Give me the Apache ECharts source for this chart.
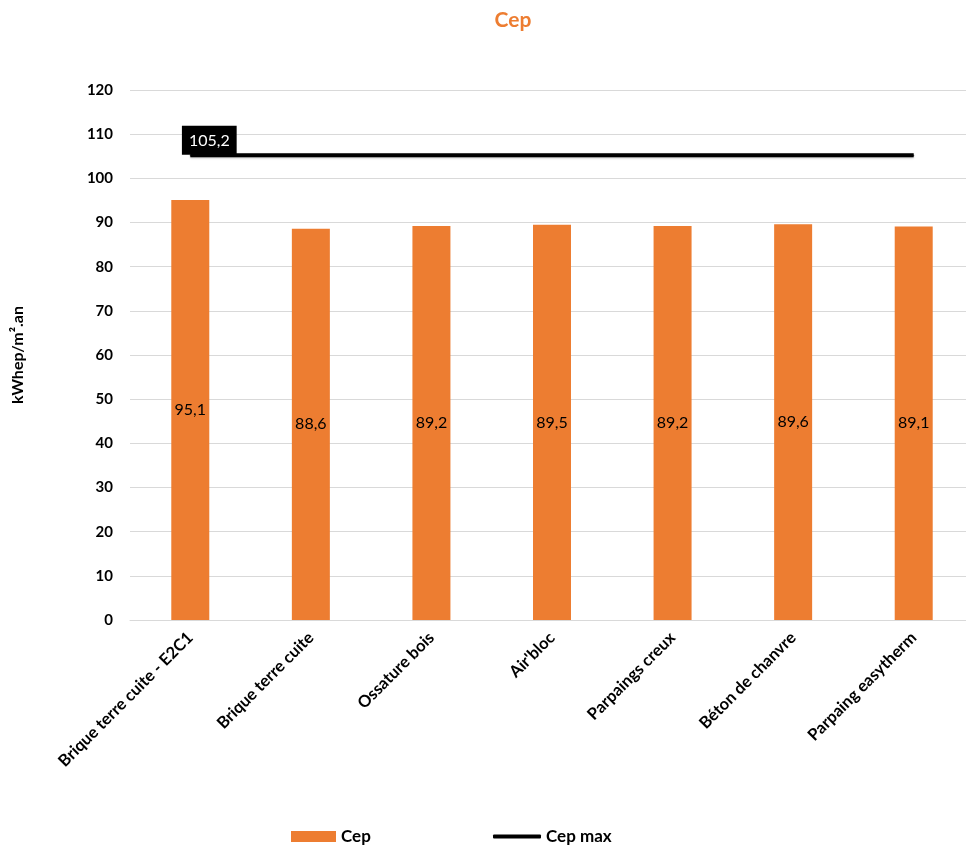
<!DOCTYPE html>
<html>
<head>
<meta charset="utf-8">
<script src="https://cdn.jsdelivr.net/npm/echarts@6/dist/echarts.min.js"></script>
<style>html,body{margin:0;padding:0;background:#fff;overflow:hidden}#c{width:980px;height:847px}</style>
</head>
<body>
<div id="c"></div>
<script>
const categories = ["Brique terre cuite - E2C1", "Brique terre cuite", "Ossature bois", "Air'bloc", "Parpaings creux", "Béton de chanvre", "Parpaing easytherm"];
const cepValues = [95.1, 88.6, 89.2, 89.5, 89.2, 89.6, 89.1];
const cepMaxValue = 105.2;
const yTicks = { min: 0, max: 120, interval: 10 };

const FONT = 'Lato';
const fmt = v => String(v).replace('.', ',');

const cepMaxData = categories.map((c, i) => i === 0
  ? { value: cepMaxValue, label: { show: true } }
  : cepMaxValue);

const chart = echarts.init(document.getElementById('c'), null, { renderer: 'canvas' });
chart.setOption({
  animation: false,
  textStyle: { fontFamily: FONT },
  title: {
    text: 'Cep',
    left: 508, top: 5, textAlign: 'center',
    textStyle: { color: '#ED7D31', fontSize: 21, fontWeight: 'bold', fontFamily: FONT }
  },
  legend: [
    {
      data: ['Cep'], left: 291, top: 828, padding: 0,
      itemWidth: 45, itemHeight: 11, icon: 'rect',
      textStyle: { color: '#000', fontSize: 17, fontWeight: 'bold', fontFamily: FONT }
    },
    {
      data: [{ name: 'Cep max', icon: 'roundRect' }], left: 493, top: 828, padding: 0,
      itemWidth: 48, itemHeight: 4,
      textStyle: { color: '#000', fontSize: 17, fontWeight: 'bold', fontFamily: FONT }
    }
  ],
  grid: { left: 130, right: 6, top: 90, bottom: 227, containLabel: false },
  xAxis: {
    type: 'category',
    data: categories,
    axisLine: { show: true, lineStyle: { color: '#D9D9D9', width: 1 } },
    axisTick: { show: false },
    axisLabel: {
      interval: 0, rotate: 45, margin: 15,
      color: '#000', fontSize: 16.5, fontWeight: 'bold', fontFamily: FONT
    }
  },
  yAxis: {
    type: 'value',
    min: yTicks.min, max: yTicks.max, interval: yTicks.interval,
    name: 'kWhep/m².an',
    nameLocation: 'middle', nameGap: 104, nameRotate: 90,
    nameTextStyle: { color: '#000', fontSize: 16, fontWeight: 'bold', fontFamily: FONT },
    axisLine: { show: false },
    axisTick: { show: false },
    axisLabel: { margin: 17, color: '#000', fontSize: 15, fontWeight: 'bold', fontFamily: FONT },
    splitLine: { lineStyle: { color: '#D9D9D9', width: 1 } }
  },
  series: [
    {
      name: 'Cep',
      type: 'bar',
      data: cepValues,
      barWidth: 38,
      itemStyle: { color: '#ED7D31' },
      label: {
        show: true, position: 'inside',
        color: '#000', fontSize: 16, fontFamily: FONT,
        formatter: p => fmt(p.value)
      }
    },
    {
      name: 'Cep max',
      type: 'line',
      data: cepMaxData,
      symbol: 'circle', symbolSize: 1,
      showSymbol: true,
      itemStyle: { color: '#000' },
      lineStyle: { color: '#000', width: 4, shadowColor: 'rgba(0,0,0,0.25)', shadowBlur: 2, shadowOffsetY: 1 },
      label: {
        show: false, position: 'top', distance: 0, offset: [19, 0],
        backgroundColor: '#000', color: '#fff', fontSize: 16, fontFamily: FONT,
        padding: [5, 7, 5, 7], lineHeight: 19,
        formatter: p => fmt(p.value)
      },
      z: 5
    }
  ]
});
</script>
</body>
</html>
